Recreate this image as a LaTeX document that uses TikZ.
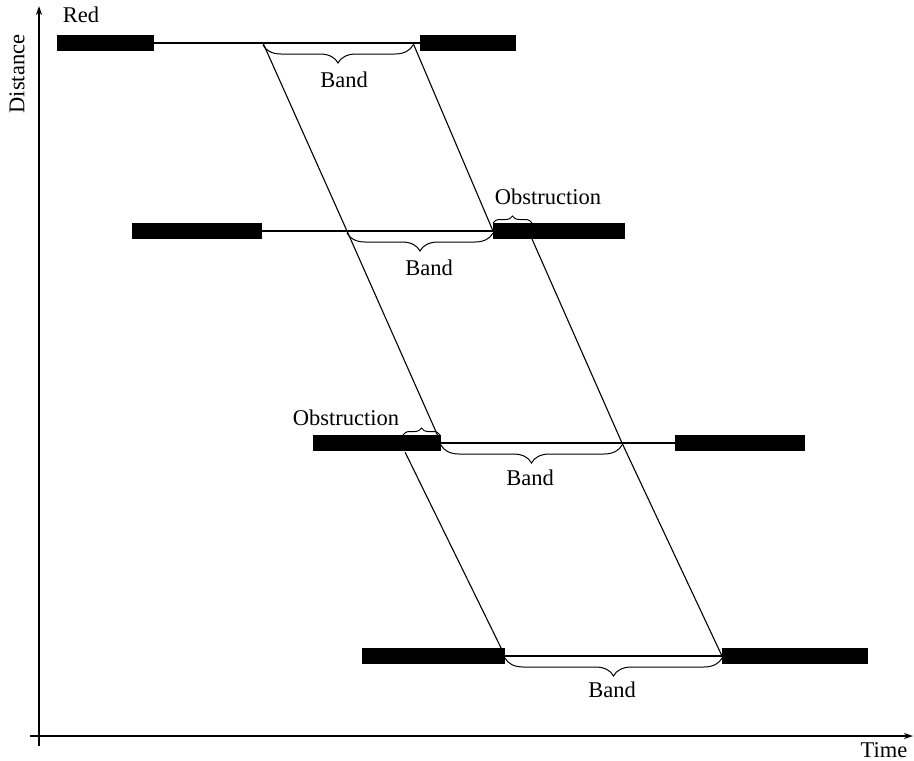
\documentclass[tikz,border=0pt]{standalone}
\usepackage{fontspec}
\setmainfont{Liberation Serif}
\usetikzlibrary{decorations.pathreplacing,arrows.meta}
\tikzset{
  bar/.style={fill=black, draw=none, rectangle, minimum height=16pt, inner sep=0pt},
  road/.style={line width=1.1pt},
  slant/.style={line width=1.1pt},
  axis/.style={line width=1.4pt, -{Stealth[length=9pt,width=6pt]}},
  bandbrace/.style={decorate, decoration={brace, mirror, amplitude=18pt, aspect=0.5}, line width=1pt},
  obsbrace/.style={decorate, decoration={brace, amplitude=7pt}, line width=1pt},
  lbl/.style={font=\fontsize{22.5}{26}\selectfont, inner sep=0pt}
}
\begin{document}
\begin{tikzpicture}[x=1pt,y=-1pt]
\useasboundingbox (0,0) rectangle (914,761);
% axes
\coordinate (ytop) at (39,6);
\coordinate (ybot) at (39,746);
\coordinate (xl) at (30,736);
\coordinate (xr) at (913,736);
\draw[axis] (ybot) -- (ytop);
\draw[axis] (xl) -- (xr);
\node[lbl, rotate=90] (dist) at (17,74) {Distance};
\node[lbl] (time) at (884,750) {Time};

% crossing points
\coordinate (a1) at (263,43);  \coordinate (b1) at (413,43);
\coordinate (a2) at (347,231); \coordinate (b2) at (493,231); \coordinate (c2) at (532,239);
\coordinate (a3) at (441,443); \coordinate (b3) at (622,443); \coordinate (c3) at (405,452);
\coordinate (a4) at (505,656); \coordinate (b4) at (722,656);

% slanted lines
\draw[slant] (a1) -- (a2) -- (a3);
\draw[slant] (b1) -- (b2);
\draw[slant] (c2) -- (b3) -- (b4);
\draw[slant] (c3) -- (a4);

% row 1
\node[bar, minimum width=97pt, anchor=west] (r1a) at (57,43) {};
\node[bar, minimum width=96pt, anchor=west] (r1b) at (420,43) {};
\draw[road] (r1a.east) -- (r1b.west);
% row 2
\node[bar, minimum width=130pt, anchor=west] (r2a) at (132,231) {};
\node[bar, minimum width=132pt, anchor=west] (r2b) at (493,231) {};
\draw[road] (r2a.east) -- (r2b.west);
% row 3
\node[bar, minimum width=128pt, anchor=west] (r3a) at (313,443) {};
\node[bar, minimum width=130pt, anchor=west] (r3b) at (675,443) {};
\draw[road] (r3a.east) -- (r3b.west);
% row 4
\node[bar, minimum width=143pt, anchor=west] (r4a) at (362,656) {};
\node[bar, minimum width=146pt, anchor=west] (r4b) at (722,656) {};
\draw[road] (r4a.east) -- (r4b.west);

% braces
\coordinate (br1s) at (263,45); \coordinate (br1e) at (413,45);
\draw[bandbrace] (br1s) -- (br1e);
\coordinate (br2s) at (347,233); \coordinate (br2e) at (493,233);
\draw[bandbrace] (br2s) -- (br2e);
\coordinate (br3s) at (441,445); \coordinate (br3e) at (622,445);
\draw[bandbrace] (br3s) -- (br3e);
\coordinate (br4s) at (505,658); \coordinate (br4e) at (722,658);
\draw[bandbrace] (br4s) -- (br4e);
\coordinate (ob1s) at (493,223); \coordinate (ob1e) at (532,223);
\draw[obsbrace] (ob1s) -- (ob1e);
\coordinate (ob2s) at (403,435); \coordinate (ob2e) at (440,435);
\draw[obsbrace] (ob2s) -- (ob2e);

% labels
\node[lbl] (red) at (81,15) {Red};
\node[lbl] (band1) at (344,80) {Band};
\node[lbl] (band2) at (429,268) {Band};
\node[lbl] (band3) at (530,478) {Band};
\node[lbl] (band4) at (612,690) {Band};
\node[lbl] (obs1) at (548,197) {Obstruction};
\node[lbl] (obs2) at (346,418) {Obstruction};
\end{tikzpicture}
\end{document}
